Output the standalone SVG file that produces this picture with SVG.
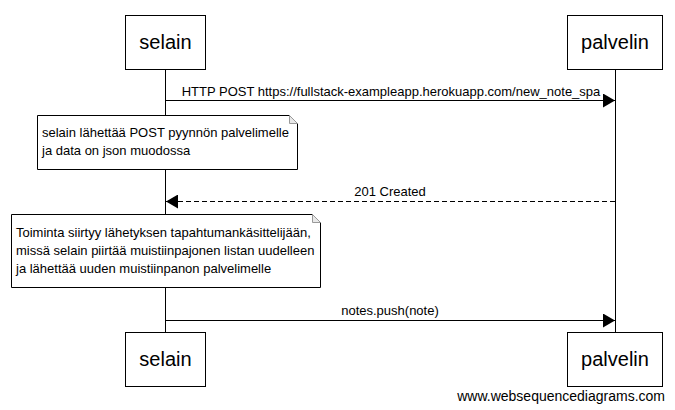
<svg xmlns="http://www.w3.org/2000/svg" width="675" height="410" viewBox="0 0 675 410">
<style>
.box{fill:#fff;stroke:#000;stroke-width:1}
.life{stroke:#000;stroke-width:1}
.big{font-family:"Liberation Sans",Arial,sans-serif;font-size:20px;text-anchor:middle}
.lbl{font-family:"Liberation Sans",Arial,sans-serif;font-size:13px;text-anchor:middle}
.nt{font-family:"Liberation Sans",Arial,sans-serif;font-size:13px}
.msg{stroke:#000;stroke-width:1;fill:none}
.note{fill:#fff;stroke:#000;stroke-width:1}
.ear{fill:#e8e8e8;stroke:#999;stroke-width:1}
</style>
<defs>
<marker id="ah" markerWidth="12" markerHeight="14" refX="12" refY="7" orient="auto" markerUnits="userSpaceOnUse">
<path d="M0,0 L12,7 L0,14 Z" fill="#000"/>
</marker>
</defs>
<rect width="675" height="410" fill="#fff"/>
<g id="lifelines">
<line class="life" x1="165.5" y1="69" x2="165.5" y2="333"/>
<line class="life" x1="615.5" y1="69" x2="615.5" y2="333"/>
</g>
<g id="selain-top"><rect class="box" x="125.5" y="15.5" width="80" height="54"/><text class="big" x="165.5" y="49">selain</text></g>
<g id="palvelin-top"><rect class="box" x="567.5" y="15.5" width="95" height="54"/><text class="big" x="615" y="49">palvelin</text></g>
<g id="selain-bottom"><rect class="box" x="125.5" y="332.5" width="80" height="54"/><text class="big" x="165.5" y="366">selain</text></g>
<g id="palvelin-bottom"><rect class="box" x="567.5" y="332.5" width="95" height="54"/><text class="big" x="615" y="366">palvelin</text></g>
<g id="connectors">
<line class="msg" x1="166" y1="100.5" x2="615" y2="100.5" marker-end="url(#ah)"/>
<text class="lbl" x="391" y="96">HTTP POST https://fullstack-exampleapp.herokuapp.com/new_note_spa</text>
<line class="msg" x1="615" y1="201.5" x2="166" y2="201.5" stroke-dasharray="5,3" marker-end="url(#ah)"/>
<text class="lbl" x="390" y="196">201 Created</text>
<line class="msg" x1="166" y1="320.5" x2="615" y2="320.5" marker-end="url(#ah)"/>
<text class="lbl" x="390" y="315">notes.push(note)</text>
</g>
<g id="note1">
<path class="note" d="M37.5,115.5 H289.5 L297.5,123.5 V169.5 H37.5 Z"/>
<path class="ear" d="M289.5,115.5 V123.5 H297.5 Z"/>
<text class="nt" x="42" y="137">selain lähettää POST pyynnön palvelimelle</text>
<text class="nt" x="42" y="155">ja data on json muodossa</text>
</g>
<g id="note2">
<path class="note" d="M11.5,214.5 H312.5 L320.5,222.5 V287.5 H11.5 Z"/>
<path class="ear" d="M312.5,214.5 V222.5 H320.5 Z"/>
<text class="nt" x="16" y="237">Toiminta siirtyy lähetyksen tapahtumankäsittelijään,</text>
<text class="nt" x="16" y="255">missä selain piirtää muistiinpajonen listan uudelleen</text>
<text class="nt" x="16" y="273">ja lähettää uuden muistiinpanon palvelimelle</text>
</g>
<text x="665" y="401" font-family="Liberation Sans, Arial, sans-serif" font-size="14" text-anchor="end">www.websequencediagrams.com</text>
</svg>
